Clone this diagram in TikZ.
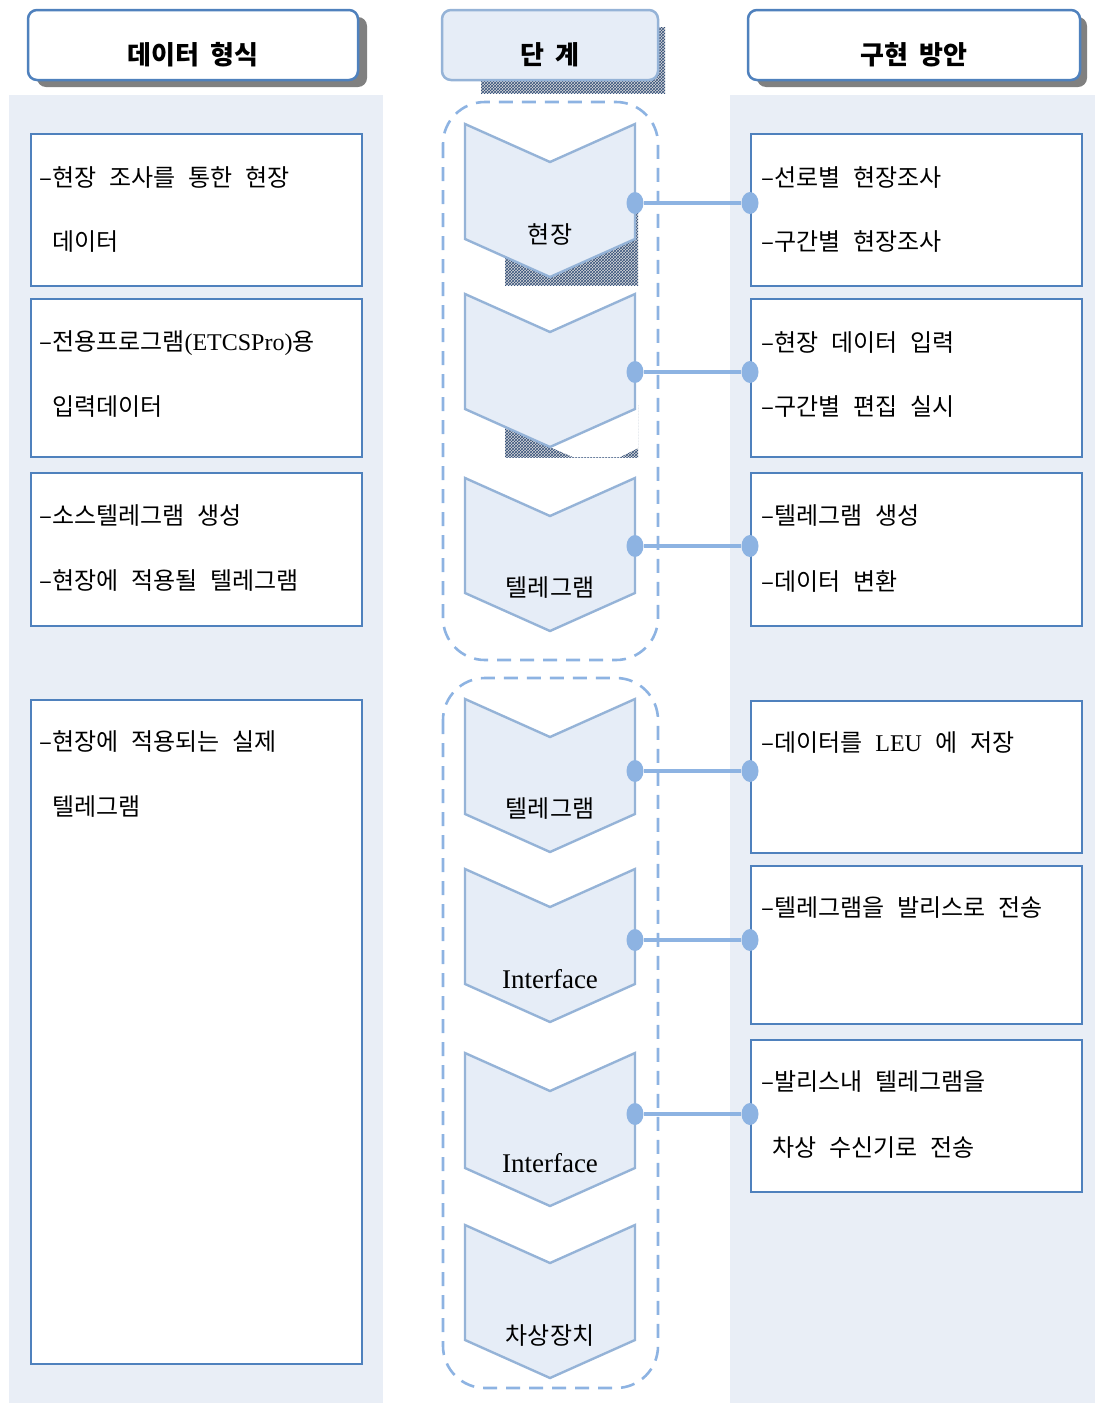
\documentclass[tikz,border=0pt]{standalone}
\usepackage{fontspec}
\setmainfont{Liberation Serif}
\newfontfamily\kr{Noto Sans CJK KR}
\usetikzlibrary{positioning,calc,shapes.geometric,patterns}

\definecolor{colbg}{HTML}{E9EEF6}
\definecolor{boxline}{HTML}{4F81BD}
\definecolor{stepfill}{HTML}{E6EDF7}
\definecolor{stepline}{HTML}{95B3D7}
\definecolor{linkblue}{HTML}{8DB3E2}
\definecolor{hatchline}{HTML}{34507A}

\newcommand\bodyfont{\fontsize{24}{28}\selectfont\kr\spaceskip=13pt\relax}
\newcommand\headfont{\fontsize{26}{30}\selectfont\kr\bfseries\spaceskip=12pt\relax}
\newcommand\latinfont{\fontsize{24}{28}\selectfont\rmfamily}

\begin{document}
\begin{tikzpicture}[x=1pt, y=-1pt,
  every node/.style={inner sep=0pt, font=\bodyfont},
  head/.style={draw=boxline, line width=2.5pt, fill=white, rounded corners=9pt,
    minimum width=330pt, minimum height=70pt},
  headshadow/.style={fill=black!50, rounded corners=9pt},
  headtext/.style={font=\headfont},
  hatchshadow/.style={preaction={fill=black!15}, pattern=crosshatch, pattern color=hatchline},
  infobox/.style={draw=boxline, line width=1.8pt, fill=white, anchor=north west,
    minimum width=331pt},
  line/.style={anchor=west},
  group/.style={draw=linkblue, line width=2.6pt, dash pattern=on 14pt off 9pt, rounded corners=42pt},
  stepshape/.style={draw=stepline, line width=2.4pt, fill=stepfill, line join=miter},
  dot/.style={ellipse, fill=linkblue, minimum width=17pt, minimum height=22pt},
  link/.style={draw=linkblue, line width=3.5pt}]

  \useasboundingbox (0,0) rectangle (1095,1403);

  % column backgrounds
  \fill[colbg] (9,95) rectangle (383,1403);
  \fill[colbg] (730,95) rectangle (1095,1403);

  % headers
  \fill[headshadow] (37,17) rectangle (367,87);
  \node[head] (hleft) at (193,45) {};
  \node[headtext] (tleft) at (193,55) {데이터 형식};

  \fill[hatchshadow] (481,27) rectangle (665,93);
  \node[head, draw=stepline, fill=stepfill, minimum width=216pt] (hmid) at (550,45) {};
  \node[headtext] (tmid) at (550,55) {단 계};

  \fill[headshadow] (757,17) rectangle (1087,87);
  \node[head, minimum width=332pt] (hright) at (914,45) {};
  \node[headtext] (tright) at (914,55) {구현 방안};

  % left column
  \node[infobox, minimum height=152pt] (l1) at (30,133) {};
  \node[line] (l1a) at (39,178) {–현장 조사를 통한 현장};
  \node[line] (l1b) at (52,242) {데이터};
  \node[infobox, minimum height=158pt] (l2) at (30,298) {};
  \node[line] (l2a) at (39,343) {–전용프로그램{\latinfont(ETCSPro)}용};
  \node[line] (l2b) at (52,407) {입력데이터};
  \node[infobox, minimum height=153pt] (l3) at (30,472) {};
  \node[line] (l3a) at (39,516) {–소스텔레그램 생성};
  \node[line] (l3b) at (39,581) {–현장에 적용될 텔레그램};
  \node[infobox, minimum height=664pt] (l4) at (30,699) {};
  \node[line] (l4a) at (39,742) {–현장에 적용되는 실제};
  \node[line] (l4b) at (52,807) {텔레그램};

  % right column
  \node[infobox, minimum height=152pt] (r1) at (750,133) {};
  \node[line] (r1a) at (761,178) {–선로별 현장조사};
  \node[line] (r1b) at (761,242) {–구간별 현장조사};
  \node[infobox, minimum height=158pt] (r2) at (750,298) {};
  \node[line] (r2a) at (761,343) {–현장 데이터 입력};
  \node[line] (r2b) at (761,407) {–구간별 편집 실시};
  \node[infobox, minimum height=153pt] (r3) at (750,472) {};
  \node[line] (r3a) at (761,516) {–텔레그램 생성};
  \node[line] (r3b) at (761,581) {–데이터 변환};
  \node[infobox, minimum height=152pt] (r4) at (750,700) {};
  \node[line] (r4a) at (761,743) {–데이터를 {\latinfont LEU} 에 저장};
  \node[infobox, minimum height=158pt] (r5) at (750,865) {};
  \node[line] (r5a) at (761,908) {–텔레그램을 발리스로 전송};
  \node[infobox, minimum height=152pt] (r6) at (750,1039) {};
  \node[line] (r6a) at (761,1082) {–발리스내 텔레그램을};
  \node[line] (r6b) at (772,1147) {차상 수신기로 전송};

  % stages
  \draw[group] (443,102) rectangle (658,660);
  \draw[group] (443,678) rectangle (658,1388);

  \fill[hatchshadow] (505,200) rectangle (638,285);
  \fill[hatchshadow] (505,405) rectangle (638,457);
  \fill[white] (550,447) -- (573,457) -- (620,457) -- (638,448) -- (638,400) -- (550,400) -- cycle;

  \foreach \t/\lab/\nm in {124/현장/s1, 294/{}/s2, 478/텔레그램/s3, 699/텔레그램/s4,
      869/{\fontsize{27}{30}\selectfont\rmfamily Interface}/s5,
      1053/{\fontsize{27}{30}\selectfont\rmfamily Interface}/s6, 1225/차상장치/s7} {
    \draw[stepshape] (465,\t) -- (550,\t+38) -- (635,\t) -- (635,\t+115)
      -- (550,\t+153) -- (465,\t+115) -- cycle;
    \node (\nm) at (550,\t+110) {\lab};
  }

  % links
  \foreach \y [count=\i] in {203,372,546,771,940,1114} {
    \node[dot] (dl\i) at (635,\y) {};
    \node[dot] (dr\i) at (750,\y) {};
    \draw[link] (dl\i) -- (dr\i);
  }
\end{tikzpicture}
\end{document}
